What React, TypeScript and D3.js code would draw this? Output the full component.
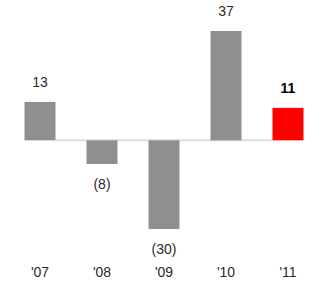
import React from "react";
import * as d3 from "d3";

const categories = ["'07", "'08", "'09", "'10", "'11"];
const values = [13, -8, -30, 37, 11];
const valueLabels = ["13", "(8)", "(30)", "37", "11"];

const W = 321;
const H = 281;

export default function App() {
  const x = d3.scaleBand<string>().domain(categories).range([9, 319]).paddingInner(0.5).paddingOuter(0.25);
  const y = d3.scaleLinear().domain([-30, 37]).range([229, 31]);
  const y0 = y(0);
  return (
    <svg width={W} height={H} style={{ position: "absolute", left: 0, top: 0, background: "#fff" }}
      fontFamily="Liberation Sans, Arial, sans-serif">
      <line x1={x(categories[0])! + x.bandwidth()} x2={x(categories[4])!} y1={y0} y2={y0} stroke="#dcdcdc" strokeWidth={2} />
      {categories.map((c, i) => {
        const v = values[i];
        const last = i === categories.length - 1;
        const top = Math.min(y(v), y0);
        const h = Math.abs(y(v) - y0);
        const cx = x(c)! + x.bandwidth() / 2;
        const ly = v >= 0 ? top - 15 : top + h + 25;
        return (
          <g key={c}>
            <rect x={x(c)} y={top} width={x.bandwidth()} height={h} fill={last ? "#ff0000" : "#8f8f8f"} />
            <text x={cx} y={ly} textAnchor="middle" fontSize={14} fill={last ? "#000" : "#2a2a2a"} fontWeight={last ? "bold" : "normal"}>
              {valueLabels[i]}
            </text>
            <text x={cx} y={277} textAnchor="middle" fontSize={14} fill="#2a2a2a">{c}</text>
          </g>
        );
      })}
    </svg>
  );
}
